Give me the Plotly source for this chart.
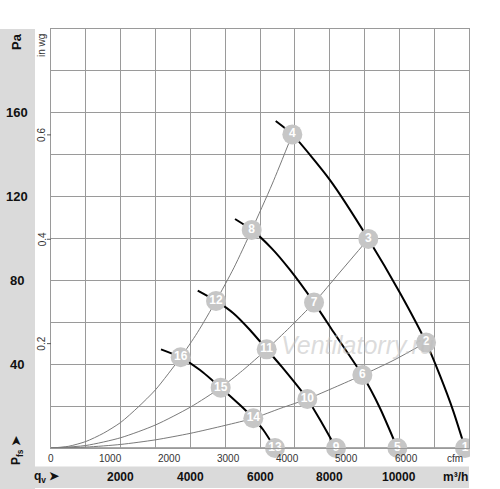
import plotly.graph_objects as go

# ---------------- data ----------------
# fan characteristic curves (q in m3/h, p in Pa)
fan1_q = [6451, 6928, 8010, 9110, 10020, 10767, 11168, 11551, 11886]
fan1_p = [156.1, 149.7, 127.9, 99.8, 74.0, 50.4, 34.5, 17.5, 0]
fan2_q = [5283, 5762, 6336, 6862, 7551, 8105, 8939, 9446, 9943]
fan2_p = [109.3, 104.1, 95.3, 85.0, 69.4, 55.5, 34.8, 19.0, 0]
fan3_q = [4212, 4737, 5235, 5713, 6192, 6623, 7359, 7723, 8183]
fan3_p = [75.1, 70.2, 64.3, 56.3, 47.1, 38.8, 23.4, 13.5, 0]
fan4_q = [3158, 3723, 4278, 4871, 5426, 5808, 6096, 6431]
fan4_p = [47.1, 43.3, 37.2, 28.8, 20.5, 14.2, 8.6, 0]

# system (resistance) curves
sysA_q = [0, 500, 1000, 1500, 2000, 2500, 3000, 3723, 4200, 4737, 5250, 5762, 6350, 6928]
sysA_p = [0, 0.8, 3.1, 7.0, 12.2, 19.5, 27.8, 43.3, 55.0, 70.2, 86.0, 104.1, 126.0, 149.7]
sysB_q = [0, 1000, 2000, 3000, 4000, 4871, 5500, 6192, 6850, 7551, 8300, 9110]
sysB_p = [0, 1.2, 4.9, 11.0, 19.5, 28.8, 37.0, 47.1, 57.5, 69.4, 84.0, 99.8]
sysC_q = [0, 1000, 2000, 3000, 4000, 5000, 5808, 6600, 7359, 8150, 8939, 9850, 10767]
sysC_p = [0, 0.43, 1.7, 3.9, 7.0, 10.8, 14.2, 19.0, 23.4, 29.0, 34.8, 42.0, 50.4]

# numbered operating points
pt_labels = [str(i) for i in range(1, 17)]
pt_q = [11886, 10767, 9110, 6928, 9943, 8939, 7551, 5762, 8183, 7359, 6192, 4737, 6431, 5808, 4871, 3723]
pt_p = [0, 50.4, 99.8, 149.7, 0, 34.8, 69.4, 104.1, 0, 23.4, 47.1, 70.2, 0, 14.2, 28.8, 43.3]

# axis tick labels
pa_ticks = [40, 80, 120, 160]
inwg_ticks = [0.2, 0.4, 0.6]
m3h_ticks = [2000, 4000, 6000, 8000, 10000]
cfm_ticks = [0, 1000, 2000, 3000, 4000, 5000, 6000]

PA_PER_INWG = 249.09
M3H_PER_CFM = 1.699

FONT = "Liberation Sans, Arial, sans-serif"

fig = go.Figure()

for q, p in [(sysA_q, sysA_p), (sysB_q, sysB_p), (sysC_q, sysC_p)]:
    fig.add_trace(go.Scatter(x=q, y=p, mode="lines",
                             line=dict(color="#7a7a7a", width=1, shape="spline", smoothing=0.7),
                             hoverinfo="skip", showlegend=False))

for q, p in [(fan1_q, fan1_p), (fan2_q, fan2_p), (fan3_q, fan3_p), (fan4_q, fan4_p)]:
    fig.add_trace(go.Scatter(x=q, y=p, mode="lines",
                             line=dict(color="#000000", width=2, shape="spline", smoothing=0.6),
                             hoverinfo="skip", showlegend=False))

fig.add_trace(go.Scatter(x=pt_q, y=pt_p, mode="markers+text", text=pt_labels,
                         textposition="middle center",
                         textfont=dict(family=FONT, size=12, color="white", weight="bold"),
                         marker=dict(size=20, color="#c6c6c6", line=dict(width=0)),
                         cliponaxis=False, hoverinfo="skip", showlegend=False))

shapes = []
# grey bands (L shape)
shapes.append(dict(type="rect", xref="paper", yref="paper", x0=-51/418, x1=(35-51)/418,
                   y0=(448-489)/419, y1=1.0, fillcolor="#dadada", line=dict(width=0), layer="below"))
shapes.append(dict(type="rect", xref="paper", yref="paper", x0=-51/418, x1=1.0,
                   y0=(448-488)/419, y1=(448-466.5)/419, fillcolor="#dadada", line=dict(width=0), layer="below"))
# white mask right of plot (clips marker 1)
shapes.append(dict(type="rect", xref="paper", yref="paper", x0=1.0 + 1.0/418, x1=1.2,
                   y0=-0.2, y1=1.2, fillcolor="white", line=dict(width=0), layer="above"))
# bottom axis line
shapes.append(dict(type="line", xref="paper", yref="y", x0=0, x1=1, y0=0, y1=0,
                   line=dict(color="#555555", width=1.2), layer="below"))
# in wg ticks
for v in inwg_ticks:
    shapes.append(dict(type="line", xref="paper", yref="y", x0=-4/418, x1=0,
                       y0=v*PA_PER_INWG, y1=v*PA_PER_INWG, line=dict(color="#555555", width=1)))

C = dict(xanchor="center", yanchor="middle", showarrow=False)
ann = []
band_x = (17-51)/418
for v in pa_ticks:
    ann.append(dict(x=band_x, y=v, xref="paper", yref="y", text=f"<b>{v}</b>",
                    font=dict(family=FONT, size=13, color="#111"), **C))
ann.append(dict(x=band_x, y=(448-42)/419, xref="paper", yref="paper", text="<b>Pa</b>",
                textangle=-90, font=dict(family=FONT, size=13, color="#111"), **C))
ann.append(dict(x=band_x, y=(448-450)/419, xref="paper", yref="paper", text="<b>P<sub>fs</sub> ➤</b>",
                textangle=-90, font=dict(family=FONT, size=12, color="#111"), **C))
inwg_x = (42-51)/418
for v in inwg_ticks:
    ann.append(dict(x=inwg_x, y=v*PA_PER_INWG, xref="paper", yref="y", text=f"{v}",
                    textangle=-90, font=dict(family=FONT, size=10, color="#333"), **C))
ann.append(dict(x=inwg_x, y=(448-46)/419, xref="paper", yref="paper", text="in wg",
                textangle=-90, font=dict(family=FONT, size=10, color="#333"), **C))

bot_y = (448-477)/419
for v in m3h_ticks:
    ann.append(dict(x=v, y=bot_y, xref="x", yref="paper", text=f"<b>{v}</b>",
                    font=dict(family=FONT, size=12, color="#111"), **C))
ann.append(dict(x=(455-51)/418, y=bot_y, xref="paper", yref="paper", text="<b>m³/h</b>",
                font=dict(family=FONT, size=12, color="#111"), **C))
ann.append(dict(x=(47-51)/418, y=bot_y, xref="paper", yref="paper", text="<b>q<sub>v</sub> ➤</b>",
                font=dict(family=FONT, size=12, color="#111"), **C))

cfm_y = (448-458)/419
for v in cfm_ticks:
    ann.append(dict(x=v*M3H_PER_CFM, y=cfm_y, xref="x", yref="paper", text=f"{v}",
                    font=dict(family=FONT, size=10, color="#333"), **C))
ann.append(dict(x=(455-51)/418, y=cfm_y, xref="paper", yref="paper", text="cfm",
                font=dict(family=FONT, size=10, color="#333"), **C))

# watermark
ann.append(dict(x=8786, y=49.2, xref="x", yref="y", text="<i>Ventilatorry.ru</i>",
                font=dict(family=FONT, size=25, color="rgba(190,190,190,0.55)"), **C))

fig.update_layout(
    width=500, height=489,
    margin=dict(l=51, r=31, t=29, b=41),
    paper_bgcolor="white", plot_bgcolor="white",
    showlegend=False,
    shapes=shapes, annotations=ann,
    xaxis=dict(range=[0, 12000], dtick=1000, tick0=0, showticklabels=False, ticks="",
               showgrid=True, gridcolor="#9a9a9a", gridwidth=1, zeroline=False,
               showline=True, mirror=True, linecolor="#9a9a9a", linewidth=1, fixedrange=True),
    yaxis=dict(range=[0, 200], dtick=20, tick0=0, showticklabels=False, ticks="",
               showgrid=True, gridcolor="#9a9a9a", gridwidth=1, zeroline=False,
               showline=True, mirror=True, linecolor="#9a9a9a", linewidth=1, fixedrange=True),
)

fig.write_html("out.html", config={"displayModeBar": False},
               post_script="document.body.style.margin='0';document.body.style.overflow='hidden';")
